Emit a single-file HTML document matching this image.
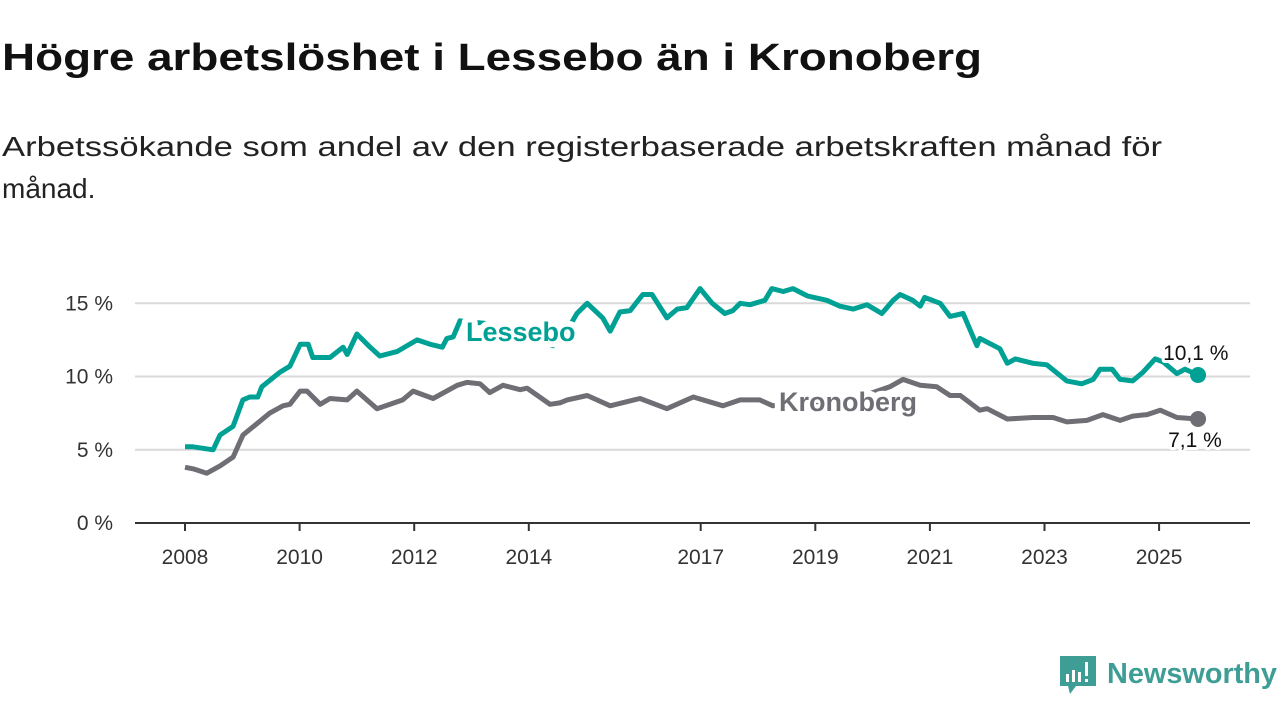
<!DOCTYPE html>
<html><head><meta charset="utf-8"><style>
html,body{margin:0;padding:0;background:#fff;}
svg{display:block;font-family:"Liberation Sans",sans-serif;}
</style></head><body>
<svg id="chart" width="1280" height="720" viewBox="0 0 1280 720">
<text x="2" y="70" font-size="38" font-weight="bold" fill="#111" textLength="980" lengthAdjust="spacingAndGlyphs">Högre arbetslöshet i Lessebo än i Kronoberg</text>
<text x="2" y="156" font-size="28" fill="#222" textLength="1160" lengthAdjust="spacingAndGlyphs">Arbetssökande som andel av den registerbaserade arbetskraften månad för</text>
<text x="2" y="198" font-size="28" fill="#222">månad.</text>
<g id="grid"></g>
<g id="yticks"></g>
<g id="xticks"></g>
<g id="series"></g>
<g>
<path d="M1060 656 h36 v30 h-20 l-6 8 l-2 -8 h-8 z" fill="#3e9d94"/>
<rect x="1066" y="674" width="3" height="8" fill="#fff"/><rect x="1072" y="670" width="3" height="12" fill="#fff"/><rect x="1078" y="672" width="3" height="10" fill="#fff"/><rect x="1085" y="662" width="3" height="14" fill="#fff"/><rect x="1085" y="679" width="3" height="3" fill="#fff"/>
<text x="1107" y="683" font-size="29" font-weight="bold" fill="#3e9d94" textLength="170" lengthAdjust="spacingAndGlyphs">Newsworthy</text>
</g>
</svg>
<script>
const yTicks=[0,5,10,15];
const yTickLabels=["0 %","5 %","10 %","15 %"];
const xTicks=[2008,2010,2012,2014,2017,2019,2021,2023,2025];
const lessT=[2008.0,2008.14,2008.49,2008.61,2008.84,2009.01,2009.13,2009.27,2009.34,2009.66,2009.83,2010.01,2010.15,2010.23,2010.53,2010.76,2010.83,2011.0,2011.23,2011.4,2011.7,2012.05,2012.28,2012.49,2012.57,2012.68,2012.8,2013.32,2013.85,2014.42,2014.72,2014.84,2015.02,2015.29,2015.42,2015.59,2015.77,2015.99,2016.15,2016.41,2016.59,2016.76,2016.99,2017.2,2017.42,2017.56,2017.69,2017.86,2018.12,2018.24,2018.44,2018.61,2018.86,2019.2,2019.43,2019.66,2019.9,2020.16,2020.36,2020.48,2020.7,2020.83,2020.91,2021.18,2021.35,2021.58,2021.82,2021.87,2022.22,2022.35,2022.49,2022.8,2023.04,2023.39,2023.65,2023.85,2023.97,2024.18,2024.32,2024.54,2024.72,2024.93,2025.07,2025.31,2025.45,2025.68];
const lessV=[5.2,5.2,5.0,6.0,6.6,8.4,8.6,8.6,9.3,10.3,10.7,12.2,12.2,11.3,11.3,12.0,11.5,12.9,12.0,11.4,11.7,12.5,12.2,12.0,12.6,12.7,13.8,13.6,13.2,12.1,13.5,14.3,15.0,14.0,13.1,14.4,14.5,15.6,15.6,14.0,14.6,14.7,16.0,15.0,14.3,14.5,15.0,14.9,15.2,16.0,15.8,16.0,15.5,15.2,14.8,14.6,14.9,14.3,15.2,15.6,15.2,14.8,15.4,15.0,14.1,14.3,12.1,12.6,11.9,10.9,11.2,10.9,10.8,9.7,9.5,9.8,10.5,10.5,9.8,9.7,10.3,11.2,11.0,10.2,10.5,10.1];
const kronT=[2008.0,2008.14,2008.38,2008.61,2008.84,2009.01,2009.26,2009.48,2009.71,2009.83,2010.01,2010.13,2010.36,2010.53,2010.83,2011.0,2011.35,2011.58,2011.8,2011.98,2012.33,2012.75,2012.92,2013.15,2013.32,2013.55,2013.85,2013.97,2014.37,2014.54,2014.67,2015.02,2015.42,2015.94,2016.41,2016.87,2017.39,2017.69,2018.03,2018.26,2019.08,2019.78,2020.3,2020.53,2020.83,2021.12,2021.35,2021.53,2021.87,2022.0,2022.35,2022.8,2023.15,2023.39,2023.74,2024.02,2024.32,2024.54,2024.79,2025.02,2025.31,2025.68];
const kronV=[3.8,3.7,3.4,3.9,4.5,6.0,6.8,7.5,8.0,8.1,9.0,9.0,8.1,8.5,8.4,9.0,7.8,8.1,8.4,9.0,8.5,9.4,9.6,9.5,8.9,9.4,9.1,9.2,8.1,8.2,8.4,8.7,8.0,8.5,7.8,8.6,8.0,8.4,8.4,8.0,8.3,8.6,9.3,9.8,9.4,9.3,8.7,8.7,7.7,7.8,7.1,7.2,7.2,6.9,7.0,7.4,7.0,7.3,7.4,7.7,7.2,7.1];
const lessLabel="10,1 %", kronLabel="7,1 %";

const NS="http://www.w3.org/2000/svg";
const X=t=>185+(t-2008)*57.3;
const Y=v=>523-v*14.65;
function mk(tag,attrs,parent){const e=document.createElementNS(NS,tag);for(const k in attrs)e.setAttribute(k,attrs[k]);parent.appendChild(e);return e;}
const grid=document.getElementById('grid'),yt=document.getElementById('yticks'),xt=document.getElementById('xticks'),ser=document.getElementById('series');
yTicks.forEach((v,i)=>{
  if(v>0){const g=mk('line',{x1:135,x2:1250,y1:Y(v),y2:Y(v),stroke:'#d9d9d9','stroke-width':2},grid);
  
  }
  const t=mk('text',{x:113,y:Y(v)+7,'font-size':21,fill:'#333','text-anchor':'end'},yt);t.textContent=yTickLabels[i];
  
  
});
const ax=mk('line',{x1:135,x2:1250,y1:523,y2:523,stroke:'#333','stroke-width':2},xt);


xTicks.forEach(y=>{
  mk('line',{x1:X(y),x2:X(y),y1:523,y2:531,stroke:'#333','stroke-width':2},xt);
  const t=mk('text',{x:X(y),y:564,'font-size':21,fill:'#333','text-anchor':'middle'},xt);t.textContent=y;
  
  
});
function line(T,V,color,name){
  const d=T.map((t,i)=>(i?'L':'M')+X(t).toFixed(1)+' '+Y(V[i]).toFixed(1)).join(' ');
  const p=mk('path',{d:d,fill:'none',stroke:color,'stroke-width':5,'stroke-linejoin':'round'},ser);
  
  
  const n=T.length-1;
  const c=mk('circle',{cx:X(T[n]),cy:Y(V[n]),r:8,fill:color},ser);
  
  
}
line(kronT,kronV,'#6f6e74','kronoberg-line');
line(lessT,lessV,'#00a195','lessebo-line');
function lab(x,y,txt,color,size,bold,anchor,name,halo){
  const t=mk('text',{x:x,y:y,'font-size':size,'font-weight':bold?'bold':'normal',fill:color,stroke:'#fff','stroke-width':halo,'stroke-linejoin':'round','paint-order':'stroke','text-anchor':anchor||'start'},ser);
  t.textContent=txt;
  
  
}
lab(466,341,'Lessebo','#00a195',27,true,'start','lessebo-label',12);
lab(779,411,'Kronoberg','#6f6e74',27,true,'start','kronoberg-label',12);
lab(X(lessT[lessT.length-1])-35,Y(lessV[lessV.length-1])-15,lessLabel,'#111',21,false,'start','lessebo-value-label',6);
lab(X(kronT[kronT.length-1])-30,Y(kronV[kronV.length-1])+28,kronLabel,'#111',21,false,'start','kronoberg-value-label',6);
</script>
</body></html>
